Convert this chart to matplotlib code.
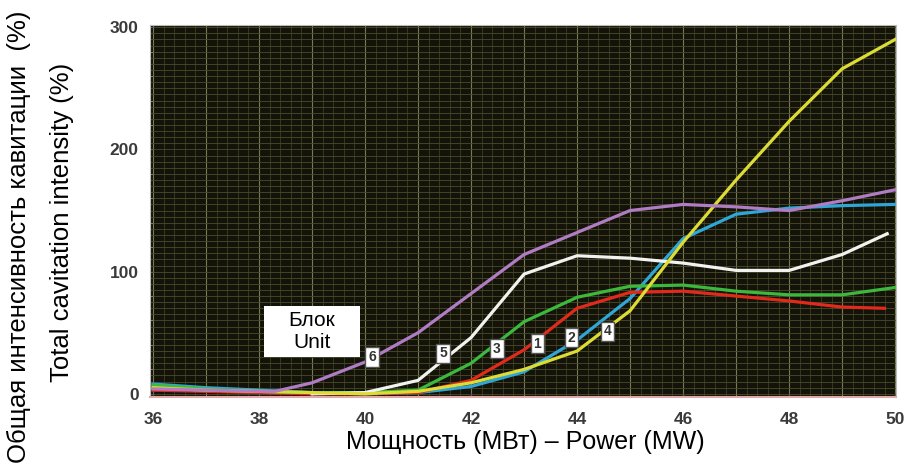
import numpy as np
import matplotlib.pyplot as plt
from matplotlib.ticker import MultipleLocator
from matplotlib.patches import Rectangle

plt.rcParams['font.family'] = ['Liberation Sans', 'DejaVu Sans']

# unit curves: power (MW) vs total cavitation intensity (%)
x_std = [36, 37, 38, 39, 40, 41, 42, 43, 44, 45, 46, 47, 48, 49, 50]

x_u6 = [36, 37, 38, 38.3, 39, 40, 41, 42, 43, 44, 45, 46, 47, 48, 49, 50]
y_u6 = [4, 3, 2, 2, 9, 26, 50, 82, 114, 132, 150, 155, 153, 150, 158, 167]

x_u5 = [39, 40, 41, 42, 43, 44, 45, 46, 47, 48, 49, 49.85]
y_u5 = [0, 1, 11, 46, 98, 113, 111, 107, 101, 101, 114, 131]

y_u3 = [7, 4, 2, 1, 1, 3, 25, 59, 79, 88, 89, 84, 81, 81, 87]

x_u1 = [36, 37, 38, 39, 40, 41, 42, 43, 44, 45, 46, 47, 48, 49, 49.8]
y_u1 = [3, 2, 1, 0, 0, 1, 11, 36, 70, 83, 84, 80, 76, 71, 70]

y_u2 = [8, 5, 3, 1, 0, 1, 6, 18, 44, 78, 127, 147, 152, 154, 155]

y_u4 = [5, 3, 2, 1, 0, 2, 9, 20, 35, 68, 124, 175, 223, 266, 290]

# label position for each unit number
lab_names = ['6', '5', '3', '1', '2', '4']
lab_x = [40.13, 41.47, 42.49, 43.25, 43.9, 44.57]
lab_y = [30, 33, 37, 41, 46, 51]

fig = plt.figure(figsize=(9.08, 4.68), dpi=100)
ax = fig.add_axes([0.165, 0.152, 0.822, 0.795])
ax.set_facecolor('#131309')

lw = 2.3
ax.plot(x_std, y_u2, color='#2fa6d6', lw=lw)
ax.plot(x_u1, y_u1, color='#e02a1c', lw=lw)
ax.plot(x_std, y_u3, color='#3cb83c', lw=lw)
ax.plot(x_u5, y_u5, color='#f2f2ee', lw=lw)
ax.plot(x_std, y_u4, color='#dcdc34', lw=lw)
ax.plot(x_u6, y_u6, color='#b07cc4', lw=lw)

for name, lx, ly in zip(lab_names, lab_x, lab_y):
    ax.text(lx, ly, name, fontsize=10, fontweight='bold', color='#333333',
            ha='center', va='center', zorder=5,
            bbox=dict(boxstyle='square,pad=0.2', fc='white', ec='#555555', lw=1))

ax.set_xlim(35.94, 50.02)
ax.set_ylim(-2.5, 302)
ax.xaxis.set_major_locator(MultipleLocator(2))
ax.xaxis.set_minor_locator(MultipleLocator(1))
ax.yaxis.set_major_locator(MultipleLocator(100))
ax.yaxis.set_minor_locator(MultipleLocator(20))

# dense olive grid
for v in np.arange(36, 50.01, 0.2):
    major = abs(v - round(v)) < 1e-6
    ax.axvline(v, color='#7a7a52' if major else '#3e3e22', lw=0.8 if major else 0.6, zorder=0)
for v in np.arange(0, 301, 5):
    ax.axhline(v, color='#4a4a2a', lw=0.6, zorder=0)

ax.tick_params(axis='both', which='major', labelsize=12.5, colors='#555555',
               length=3, width=0.8, direction='in')
ax.tick_params(axis='x', which='major', pad=11)
ax.tick_params(axis='y', which='major', pad=8)
ax.tick_params(axis='both', which='minor', length=2, colors='#888888', direction='in')
for lab in ax.get_xticklabels() + ax.get_yticklabels():
    lab.set_fontweight('bold')
    lab.set_color('#3a3a3a')

for side in ['top', 'right', 'left']:
    ax.spines[side].set_color('#bbbbbb')
ax.spines['bottom'].set_color('#e0a8a8')
ax.spines['bottom'].set_linewidth(1.5)

fig.text(0.578, 0.055, 'Мощность (МВт) – Power (MW)', fontsize=18,
         ha='center', va='center', color='black')
fig.text(0.021, 0.495, 'Общая интенсивность кавитации  (%)', fontsize=18.5,
         rotation=90, ha='center', va='center', color='black')
fig.text(0.068, 0.525, 'Total cavitation intensity (%)', fontsize=18.5,
         rotation=90, ha='center', va='center', color='black')

fig.add_artist(Rectangle((0.2907, 0.2372), 0.1057, 0.109, transform=fig.transFigure,
                         fc='white', ec='none', zorder=4))
fig.text(0.3436, 0.2917, 'Блок\nUnit', fontsize=15, ha='center', va='center',
         color='black', linespacing=1.2, zorder=5)

fig.savefig('out.png', dpi=100)
